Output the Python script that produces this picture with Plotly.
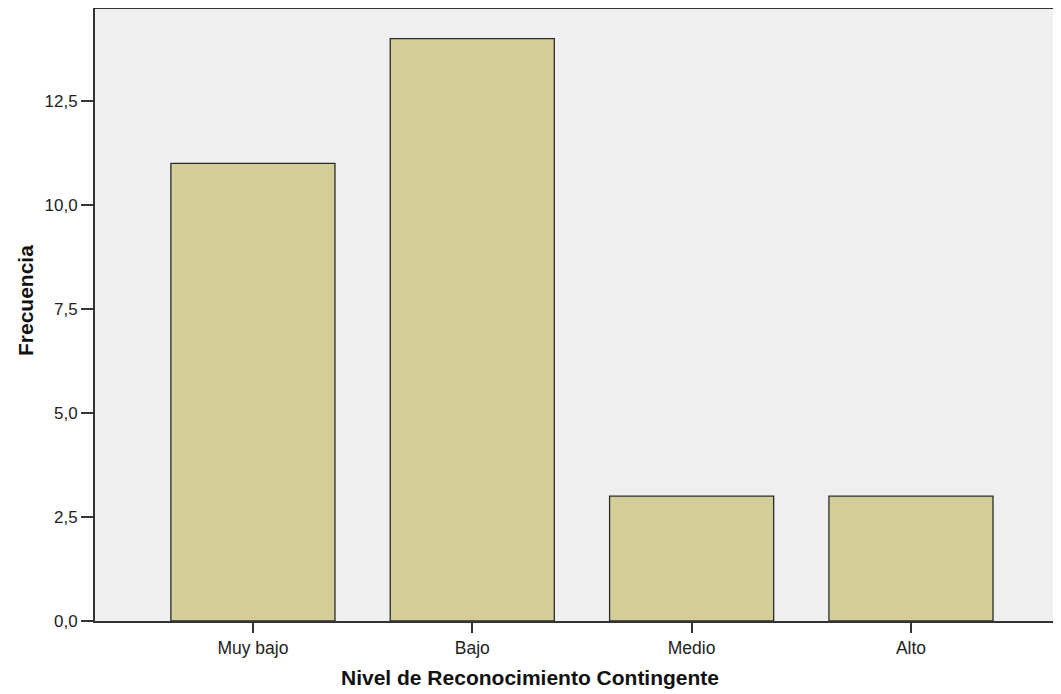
import plotly.graph_objects as go

categories = ["Muy bajo", "Bajo", "Medio", "Alto"]
frecuencia = [11, 14, 3, 3]
y_ticks = [0, 2.5, 5, 7.5, 10, 12.5]

fig = go.Figure(go.Bar(
    x=categories, y=frecuencia, width=0.748,
    marker=dict(color="#D3CE98", line=dict(color="#2b2b2b", width=1.3)),
))

fig.update_layout(
    width=1053, height=686,
    margin=dict(l=87, r=0, t=1, b=73),
    paper_bgcolor="white", plot_bgcolor="#EFEFEF",
    separators=",.",
    font=dict(family="Liberation Sans, Arial, sans-serif", color="#222"),
    showlegend=False,
    annotations=[
        dict(text="<b>Nivel de Reconocimiento Contingente</b>", xref="paper", yref="paper",
             x=0.4498, y=-0.0931, xanchor="center", yanchor="middle", showarrow=False,
             font=dict(size=21, color="#111")),
        dict(text="<b>Frecuencia</b>", xref="paper", yref="paper", textangle=-90,
             x=-0.0714, y=0.5229, xanchor="center", yanchor="middle", showarrow=False,
             font=dict(size=21, color="#111")),
    ],
)
fig.update_xaxes(
    type="category", range=[-0.72, 3.684],
    showline=True, linecolor="#333", linewidth=2, mirror=True,
    ticks="outside", ticklen=10, tickcolor="#333", tickwidth=1.5,
    showgrid=False, zeroline=False,
    tickfont=dict(size=17.5, color="#222"),
)
fig.update_yaxes(
    range=[0, 14.71], tickvals=y_ticks, tickformat=".1f",
    showline=True, linecolor="#333", linewidth=2,
    ticks="outside", ticklen=12, tickcolor="#333", tickwidth=1.5,
    showgrid=False, zeroline=False,
    tickfont=dict(size=17, color="#222"),
)

fig.write_html("out.html")
